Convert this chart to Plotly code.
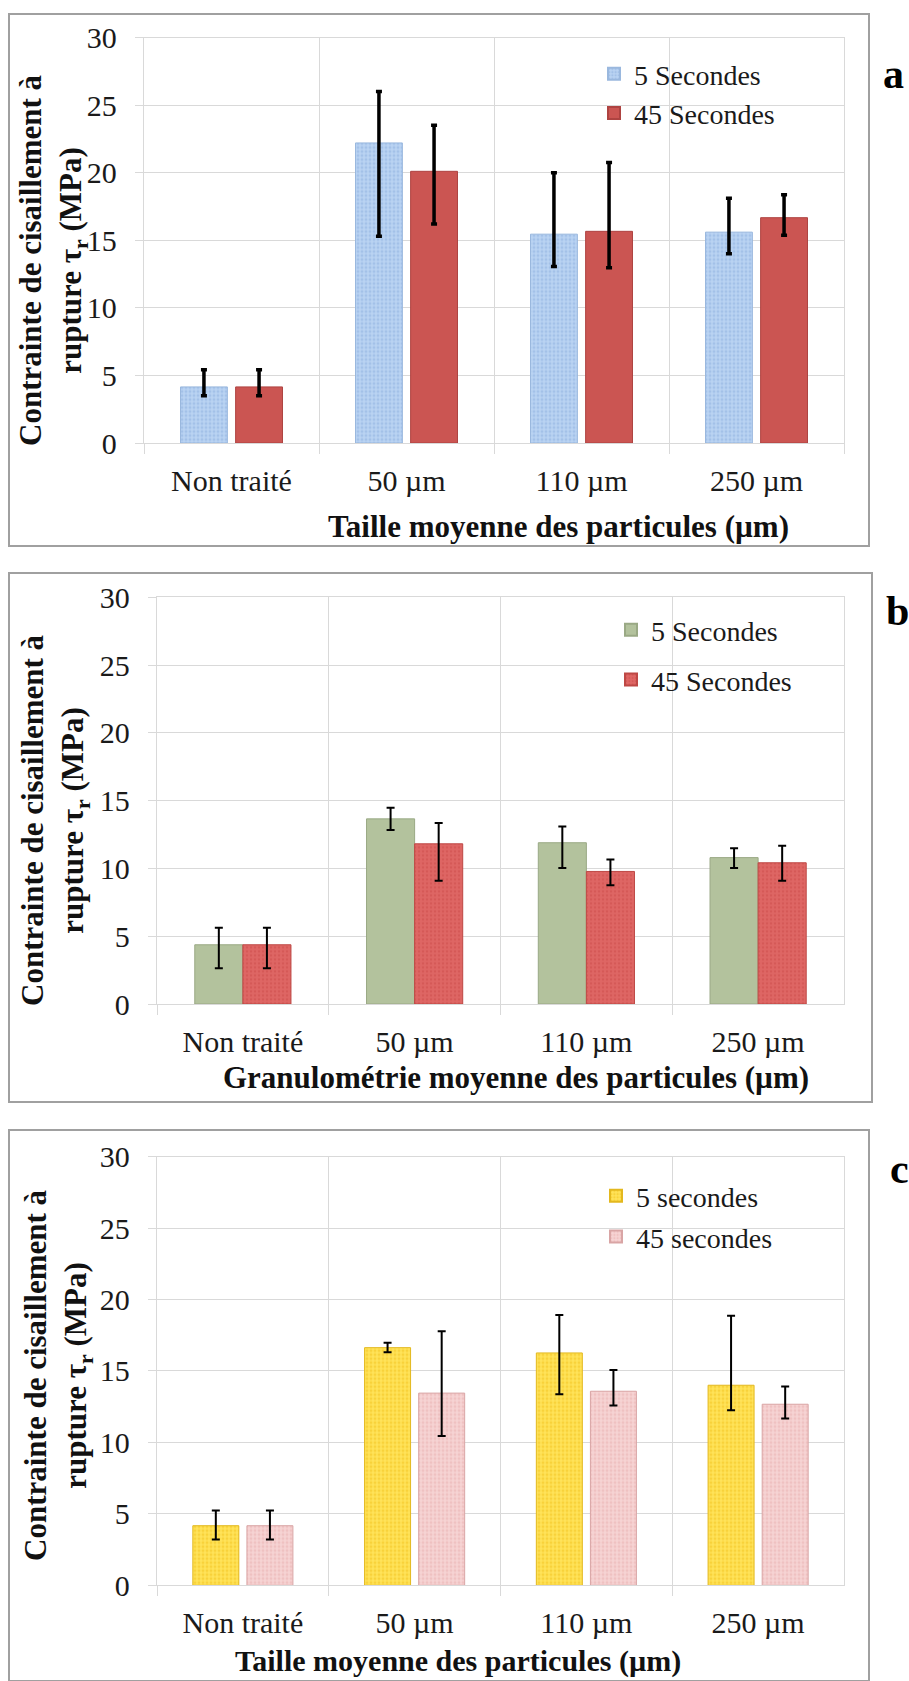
import plotly.graph_objects as go

W, H = 909, 1681

categories = ["Non traité", "50 µm", "110 µm", "250 µm"]

# Panel a
a_5s = [4.15, 22.2, 15.45, 15.6]
a_5s_up = [1.27, 3.8, 4.55, 2.5]
a_5s_dn = [0.66, 6.9, 2.4, 1.6]
a_45s = [4.15, 20.1, 15.66, 16.67]
a_45s_up = [1.27, 3.4, 5.1, 1.7]
a_45s_dn = [0.66, 3.9, 2.7, 1.3]

# Panel b
b_5s = [4.37, 13.66, 11.9, 10.8]
b_5s_up = [1.25, 0.82, 1.2, 0.69]
b_5s_dn = [1.74, 0.82, 1.87, 0.77]
b_45s = [4.37, 11.82, 9.78, 10.42]
b_45s_up = [1.25, 1.53, 0.89, 1.25]
b_45s_dn = [1.74, 2.73, 1.02, 1.33]

# Panel c
c_5s = [4.17, 16.63, 16.26, 14.0]
c_5s_up = [1.07, 0.34, 2.66, 4.87]
c_5s_dn = [0.97, 0.32, 2.89, 1.75]
c_45s = [4.17, 13.45, 13.58, 12.67]
c_45s_up = [1.07, 4.32, 1.48, 1.25]
c_45s_dn = [0.97, 3.0, 0.99, 0.99]

legend_a = ["5 Secondes", "45 Secondes"]
legend_b = ["5 Secondes", "45 Secondes"]
legend_c = ["5 secondes", "45 secondes"]
xtitle_a = "Taille moyenne des particules (µm)"
xtitle_b = "Granulométrie moyenne des particules (µm)"
xtitle_c = "Taille moyenne des particules (µm)"
ytitle = "Contrainte de cisaillement à<br>rupture τ<sub>r</sub> (MPa)"
yticks = [0, 5, 10, 15, 20, 25, 30]

SERIF = "Liberation Serif"
GRID = "#D9D9D9"


def px(x):
    return x / W


def py(y):
    return 1 - y / H


fig = go.Figure()


def add_bar(name, vals, up, dn, xa, ya, legend, color, edge, pattern, ethick, ewidth, group):
    marker = dict(color=color, line=dict(color=edge, width=1))
    if pattern is not None:
        marker["pattern"] = pattern
    fig.add_trace(go.Bar(
        x=categories, y=vals, name=name, xaxis=xa, yaxis=ya, legend=legend,
        legendgroup=group,
        marker=marker,
        error_y=dict(type="data", symmetric=False, array=up, arrayminus=dn,
                     color="black", thickness=ethick, width=ewidth),
    ))


# panel a
add_bar(legend_a[0], a_5s, a_5s_up, a_5s_dn, "x", "y", "legend", "#AECBEE", "#9AB8DE",
        dict(shape=".", fgcolor="#8BB0DE", bgcolor="#BAD3F2", size=4, solidity=0.45), 3.5, 3, "a1")
add_bar(legend_a[1], a_45s, a_45s_up, a_45s_dn, "x", "y", "legend", "#CB5552", "#AE4341",
        None, 3.5, 3, "a2")
# panel b
add_bar(legend_b[0], b_5s, b_5s_up, b_5s_dn, "x2", "y2", "legend2", "#B3C29D", "#9AA985",
        None, 2, 4, "b1")
add_bar(legend_b[1], b_45s, b_45s_up, b_45s_dn, "x2", "y2", "legend2", "#D95B59", "#BE4845",
        dict(shape=".", fgcolor="#CC4C4A", bgcolor="#DE6664", size=4, solidity=0.3), 2, 4, "b2")
# panel c
add_bar(legend_c[0], c_5s, c_5s_up, c_5s_dn, "x3", "y3", "legend3", "#FFDB45", "#E3B81E",
        dict(shape=".", fgcolor="#F2C21A", bgcolor="#FFE35A", size=4, solidity=0.45), 2, 4, "c1")
add_bar(legend_c[1], c_45s, c_45s_up, c_45s_dn, "x3", "y3", "legend3", "#F3C9C9", "#D9A5A5",
        dict(shape=".", fgcolor="#E8AFAF", bgcolor="#F6D3D3", size=4, solidity=0.4), 2, 4, "c2")

panels = {
    "a": dict(x=(144, 844), y=(443, 37.5)),
    "b": dict(x=(157, 844), y=(1004, 597.4)),
    "c": dict(x=(157, 844), y=(1585.3, 1156.6)),
}

axis_common_x = dict(
    type="category", showgrid=True, gridcolor=GRID, gridwidth=1.3,
    tickson="boundaries", ticks="outside", ticklen=10, tickcolor=GRID, tickwidth=1.3,
    showline=True, linecolor=GRID, linewidth=1.3, mirror=True,
    tickfont=dict(family=SERIF, size=30, color="#1a1a1a"),
    ticklabelstandoff=11, fixedrange=True, automargin=False,
)
axis_common_y = dict(
    range=[0, 30], tickvals=yticks, showgrid=True, gridcolor=GRID, gridwidth=1.3,
    ticks="outside", ticklen=8, tickcolor=GRID, tickwidth=1.3,
    showline=True, linecolor=GRID, linewidth=1.3, mirror=True, zeroline=False,
    tickfont=dict(family=SERIF, size=30, color="#1a1a1a"),
    ticklabelstandoff=12, fixedrange=True, automargin=False,
)

for i, key in enumerate(["a", "b", "c"]):
    suf = "" if i == 0 else str(i + 1)
    p = panels[key]
    fig.update_layout(**{
        "xaxis" + suf: dict(axis_common_x, domain=[px(p["x"][0]), px(p["x"][1])],
                            anchor="y" + suf),
        "yaxis" + suf: dict(axis_common_y, domain=[py(p["y"][0]), py(p["y"][1])],
                            anchor="x" + suf),
    })

legend_style = dict(font=dict(family=SERIF, size=28, color="#1a1a1a"),
                    bgcolor="rgba(0,0,0,0)", xanchor="left", yanchor="top",
                    traceorder="grouped", itemsizing="constant")
fig.update_layout(
    width=W, height=H, margin=dict(l=0, r=0, t=0, b=0, autoexpand=False),
    paper_bgcolor="white", plot_bgcolor="white",
    barmode="group", bargap=0.37, bargroupgap=0.15,
    showlegend=True,
    legend=dict(legend_style, x=px(594), y=py(49), tracegroupgap=0),
    legend2=dict(legend_style, x=px(611), y=py(605), tracegroupgap=10.5),
    legend3=dict(legend_style, x=px(596), y=py(1171), tracegroupgap=1.5),
)

shapes = []
borders = [(9, 14, 869, 546), (9, 573, 872, 1102), (9, 1130, 869, 1681)]
for (x0, y0, x1, y1) in borders:
    shapes.append(dict(type="rect", xref="paper", yref="paper",
                       x0=px(x0), x1=px(x1), y0=py(y1), y1=py(y0),
                       line=dict(color="#A0A0A0", width=2), fillcolor="rgba(0,0,0,0)",
                       layer="below"))
fig.update_layout(shapes=shapes)

ann = []
# x titles
for text, cx, cy, fs in [(xtitle_a, 558, 526, 31), (xtitle_b, 516, 1077, 31), (xtitle_c, 458, 1661, 30)]:
    ann.append(dict(text="<b>" + text + "</b>", x=px(cx), y=py(cy), xref="paper", yref="paper",
                    showarrow=False, xanchor="center", yanchor="middle",
                    font=dict(family=SERIF, size=fs, color="#111")))
# y titles
for cx, cy in [(53, 260), (55, 820), (58, 1375)]:
    ann.append(dict(text="<b>" + ytitle + "</b>", x=px(cx), y=py(cy), xref="paper", yref="paper",
                    showarrow=False, xanchor="center", yanchor="middle", textangle=-90,
                    font=dict(family=SERIF, size=31, color="#111")))
# panel letters
for t, cx, cy in [("a", 893, 74), ("b", 897, 611), ("c", 899, 1169)]:
    ann.append(dict(text="<b>" + t + "</b>", x=px(cx), y=py(cy), xref="paper", yref="paper",
                    showarrow=False, xanchor="center", yanchor="middle",
                    font=dict(family=SERIF, size=42, color="#000")))
fig.update_layout(annotations=ann)

# Panel b: the two bars of each pair touch each other
for tr in fig.data:
    if tr.xaxis == "x2":
        tr.width = 0.28
        tr.offset = -0.28 if tr.legendgroup == "b1" else 0.0

fig.write_html(
    "out.html",
    config={"displayModeBar": False},
    post_script="document.body.style.margin='0';document.body.style.overflow='hidden';",
)
